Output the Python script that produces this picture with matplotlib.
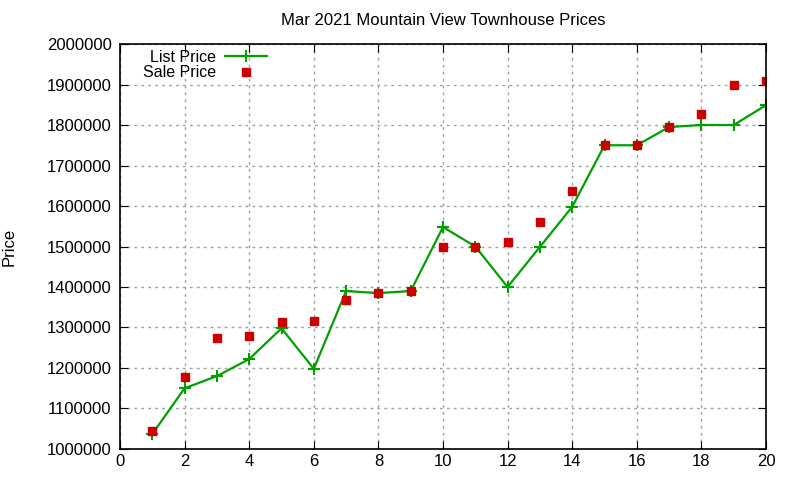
import matplotlib
matplotlib.use("Agg")
import matplotlib.pyplot as plt

plt.rcParams['font.family'] = ['Liberation Sans', 'DejaVu Sans']

days = list(range(1, 21))
list_price = [1037000, 1150000, 1180000, 1222000, 1298000, 1198000, 1390000, 1385000,
              1390000, 1548000, 1500000, 1400000, 1499000, 1598000, 1750000, 1750000,
              1795000, 1800000, 1800000, 1849000]
sale_price = [1044000, 1178000, 1274000, 1280000, 1314000, 1316000, 1368000, 1385000,
              1390000, 1499000, 1499000, 1510000, 1560000, 1638000, 1750000, 1750000,
              1796000, 1828000, 1900000, 1908000]

fig = plt.figure(figsize=(8, 4.8), dpi=100)
ax = fig.add_axes([0.15, 0.0646, 0.8075, 0.8437])

ax.plot(days, list_price, color='#00a000', linewidth=1.6, marker='+', markersize=8,
        markeredgewidth=1.5, label='List Price')
ax.plot(days, sale_price, linestyle='none', marker='s', markersize=6, color='#cc0000',
        label='Sale Price')

ax.set_xlim(0, 20)
ax.set_ylim(1000000, 2000000)
ax.set_xticks(range(0, 21, 2))
ax.set_yticks(range(1000000, 2000001, 100000))
ax.ticklabel_format(axis='y', style='plain', useOffset=False)
ax.tick_params(direction='in', top=True, right=True, labelsize=12, length=6)
ax.tick_params(axis='y', pad=6)
ax.grid(True, color='#a0a0a0', linestyle=(0, (2, 3)), linewidth=1)
for s in ax.spines.values():
    s.set_linewidth(1.2)

ax.set_title("Mar 2021 Mountain View Townhouse Prices", fontsize=12, pad=14)
ax.set_ylabel("Price", fontsize=12, labelpad=22)

ax.legend(loc='upper left', bbox_to_anchor=(0.02, 1.01), frameon=False, markerfirst=False,
          fontsize=11.5, handlelength=2.6, handletextpad=0.6, labelspacing=0.05,
          borderaxespad=0.2)

plt.savefig("out.png", dpi=100)
